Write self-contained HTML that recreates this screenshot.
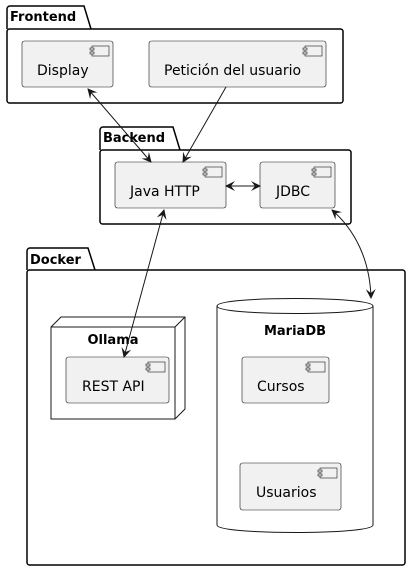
<!DOCTYPE html>
<html><head><style>
body{margin:0;background:#fff}
svg{display:block;font-family:"DejaVu Sans","Liberation Sans",sans-serif}
</style></head><body>
<svg width="411" height="572" viewBox="0 0 411 572" xmlns="http://www.w3.org/2000/svg">
<defs>
<marker id="a" viewBox="0 0 10 10" refX="9" refY="5" markerWidth="10" markerHeight="10" orient="auto-start-reverse" markerUnits="userSpaceOnUse">
<path d="M0,0 L10,5 L0,10 L4,5 Z" fill="#181818"/></marker>
<g id="ci"><rect x="0" y="0" width="17" height="10" fill="#f1f1f1" stroke="#181818" stroke-width="0.6"/><rect x="-2" y="2" width="4" height="2" fill="#f1f1f1" stroke="#181818" stroke-width="0.6"/><rect x="-2" y="6" width="4" height="2" fill="#f1f1f1" stroke="#181818" stroke-width="0.6"/></g>
</defs>
<g fill="none" stroke="#000" stroke-width="1.5">
<path d="M7,29 V9 a3,3 0 0 1 3,-3 H84 L91,29"/>
<rect x="7" y="29" width="336" height="74" rx="2.5"/>
<path d="M100,150 V130 a3,3 0 0 1 3,-3 H173 L180,150"/>
<rect x="100" y="150" width="251" height="74" rx="2.5"/>
<path d="M27,270 V251 a3,3 0 0 1 3,-3 H88 L95,270"/>
<rect x="27" y="270" width="378" height="295" rx="2.5"/>
</g>
<g font-weight="bold" font-size="13" fill="#000">
<text x="10" y="21">Frontend</text>
<text x="103" y="142">Backend</text>
<text x="30" y="264">Docker</text>
</g>
<g fill="#fff" stroke="#181818" stroke-width="1">
<path d="M51,327 L61,317 H185 V409 L175,419 H51 Z"/>
<path d="M51,327 H175 V419 M175,327 L185,317" fill="none"/>
<path d="M217,306 C217,296 373,296 373,306 V525 C373,535 217,535 217,525 Z"/>
<path d="M217,306 C217,316 373,316 373,306" fill="none"/>
</g>
<g font-weight="bold" font-size="13" fill="#000" text-anchor="middle">
<text x="113" y="104" transform="translate(0,240)">Ollama</text>
<text x="295" y="335">MariaDB</text>
</g>
<g fill="#f1f1f1" stroke="#181818" stroke-width="0.6">
<rect x="22" y="41" width="91" height="46" rx="2.5"/>
<rect x="149" y="41" width="177" height="46" rx="2.5"/>
<rect x="115" y="162" width="111" height="46" rx="2.5"/>
<rect x="260" y="162" width="75" height="46" rx="2.5"/>
<rect x="66" y="357" width="103" height="46" rx="2.5"/>
<rect x="242" y="357" width="87" height="46" rx="2.5"/>
<rect x="240" y="463" width="101" height="47" rx="2.5"/>
</g>
<use href="#ci" x="92" y="46"/>
<use href="#ci" x="305" y="46"/>
<use href="#ci" x="205" y="167"/>
<use href="#ci" x="314" y="167"/>
<use href="#ci" x="148" y="362"/>
<use href="#ci" x="308" y="362"/>
<use href="#ci" x="320" y="468"/>
<g font-size="14" fill="#000">
<text x="37" y="75">Display</text>
<text x="164" y="75">Petición del usuario</text>
<text x="130" y="196">Java HTTP</text>
<text x="276" y="196">JDBC</text>
<text x="82" y="391">REST API</text>
<text x="257" y="391">Cursos</text>
<text x="256" y="497">Usuarios</text>
</g>
<g fill="none" stroke="#181818" stroke-width="1">
<path d="M88,89 L151,162" marker-start="url(#a)" marker-end="url(#a)"/>
<path d="M226,87 L183,162" marker-end="url(#a)"/>
<path d="M226,186 L260,186" marker-start="url(#a)" marker-end="url(#a)"/>
<path d="M164,210 L124,357" marker-start="url(#a)" marker-end="url(#a)"/>
<path d="M332,210 C355,230 370,260 371,298" marker-start="url(#a)" marker-end="url(#a)"/>
</g>
</svg>
</body></html>
